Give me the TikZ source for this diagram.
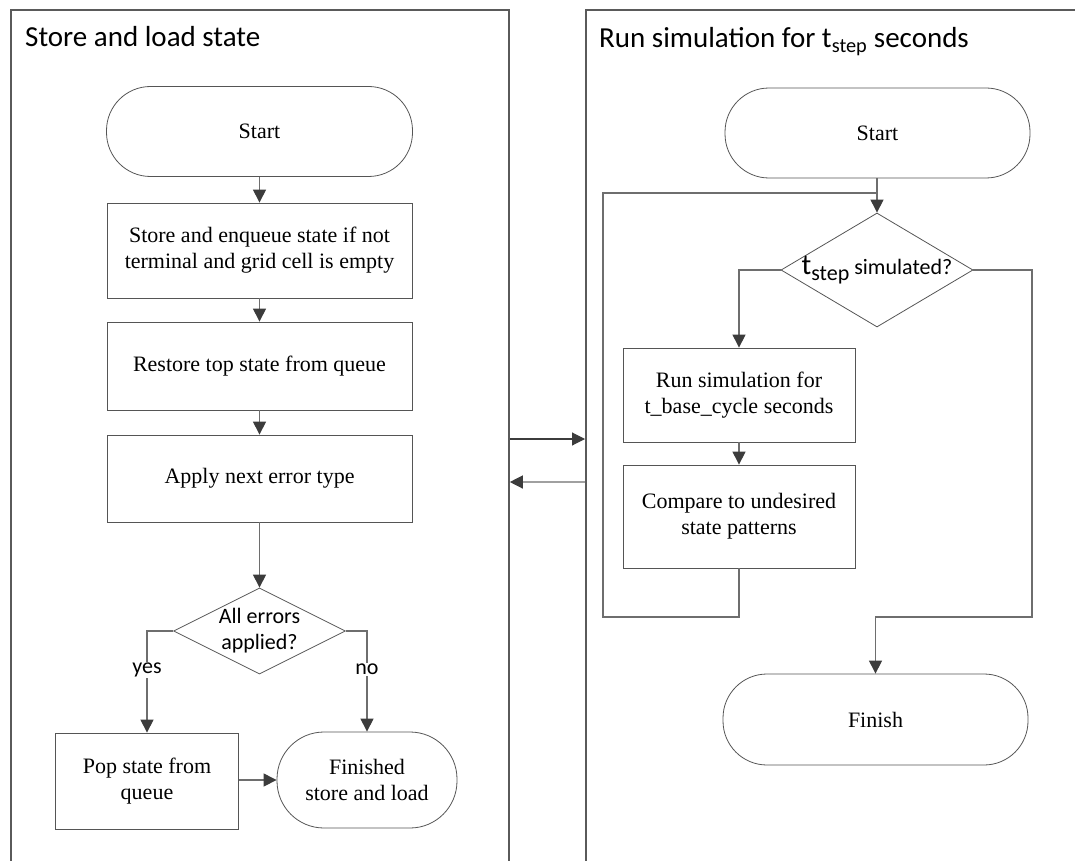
\documentclass[tikz,border=0pt]{standalone}
\usepackage{fontspec}
\setmainfont{Liberation Serif}
\newfontfamily\calibri{Carlito}
\usetikzlibrary{shapes.geometric,arrows.meta}

\definecolor{panelgray}{HTML}{5A5A5A}
\definecolor{boxgray}{HTML}{555555}
\definecolor{linegray}{HTML}{6E6E6E}
\definecolor{tipgray}{HTML}{3C3C3C}
\definecolor{lightline}{HTML}{A0A0A0}

\newcommand{\boxfont}{\fontsize{22}{26}\selectfont}
\newcommand{\decfont}{\calibri\fontsize{22}{26}\selectfont}
\newcommand{\titlefont}{\calibri\fontsize{29}{32}\selectfont}

\tikzset{
  panel/.style={draw=panelgray, line width=1.8pt, rectangle, inner sep=0pt},
  paneltitle/.style={anchor=base west, inner sep=0pt, font=\titlefont},
  proc/.style={draw=boxgray, line width=0.8pt, rectangle, align=center, inner sep=2pt, font=\boxfont},
  term/.style={proc, rounded corners=44pt},
  decision/.style={draw=boxgray, line width=0.8pt, diamond, inner sep=0pt},
  decisiontext/.style={font=\decfont, align=center, inner sep=0pt},
  flowline/.style={draw=linegray, line width=1.1pt},
  arr/.style={flowline, -{Triangle[length=13pt,width=13pt,color=tipgray]}},
  arrlight/.style={draw=lightline, line width=1.3pt, -{Triangle[length=13pt,width=13pt,color=tipgray]}},
  branchlabel/.style={fill=white, inner sep=1pt, font=\decfont},
}

\begin{document}
\begin{tikzpicture}[x=1pt, y=-1pt]
\useasboundingbox (0,0) rectangle (1075,861);

% two swim panels, open at the bottom
\node[panel, minimum width=498pt, minimum height=900pt, anchor=north west] (lpanel) at (10,9) {};
\node[panel, minimum width=540pt, minimum height=900pt, anchor=north west] (rpanel) at (585,9) {};
\node[paneltitle] (ltitle) at (25,47) {Store and load state};
\node[paneltitle] (rtitle) at (599,48) {Run simulation for t\textsubscript{step} seconds};

% ---- store and load state ----
\node[term, minimum width=306pt, minimum height=90pt] (lstart) at (259.5,131.5) {Start};
\node[proc, minimum width=305pt, minimum height=95pt] (store) at (259.5,250.5)
  {Store and enqueue state if not\\terminal and grid cell is empty};
\node[proc, minimum width=305pt, minimum height=88pt] (restore) at (259.5,366) {Restore top state from queue};
\node[proc, minimum width=305pt, minimum height=87pt] (apply) at (259.5,478.5) {Apply next error type};
\node[decision, minimum width=172pt, minimum height=86pt,
      label={[decisiontext]center:All errors\\applied?}] (errs) at (259.5,631) {};
\node[proc, minimum width=183pt, minimum height=96pt] (pop) at (147,781) {Pop state from\\queue};
\node[term, minimum width=180pt, minimum height=96pt, rounded corners=47pt] (lfin) at (367,780)
  {Finished\\store and load};

\draw[arr] (lstart) -- (store);
\draw[arr] (store) -- (restore);
\draw[arr] (restore) -- (apply);
\draw[arr] (apply) -- (errs);
\draw[arr] (errs.west) -| node[branchlabel, pos=0.69] {yes} (pop.north);
\draw[arr] (errs.east) -| node[branchlabel, pos=0.69] {no} (lfin.north);
\draw[arr] (pop.east |- lfin.west) -- (lfin.west);

% ---- run simulation for t_step ----
\node[term, minimum width=305pt, minimum height=90pt] (rstart) at (877.5,133) {Start};
\node[decision, minimum width=192pt, minimum height=114pt,
      label={[decisiontext]center:{\fontsize{29}{30}\selectfont t}\raisebox{-6pt}{step} simulated?}] (cond) at (877,270) {};
\node[proc, minimum width=232pt, minimum height=94pt] (run) at (739,395)
  {Run simulation for\\t\_base\_cycle seconds};
\node[proc, minimum width=232pt, minimum height=103pt] (cmp) at (739,516.5)
  {Compare to undesired\\state patterns};
\node[term, minimum width=305pt, minimum height=91pt] (rfin) at (875.5,719.5) {Finish};

\coordinate (loopbot) at (603,617);
\coordinate (looptop) at (603,193);
\coordinate (rturn) at (1032,617);

\draw[arr] (rstart.south -| cond.north) -- (cond.north);
\draw[arr] (cond.west) -| (run.north);
\draw[arr] (run) -- (cmp);
\draw[flowline] (cmp.south) |- (loopbot) -- (looptop) -- (looptop -| cond.north);
\draw[arr] (cond.east) -| (rturn) -| (rfin.north);

% ---- hand-over between the panels ----
\coordinate (lout) at (lpanel.east |- 0,439);
\coordinate (lin) at (lpanel.east |- 0,482);
\draw[arr, draw=tipgray] (lout) -- (rpanel.west |- lout);
\draw[arrlight] (rpanel.west |- lin) -- (lin);
\end{tikzpicture}
\end{document}
